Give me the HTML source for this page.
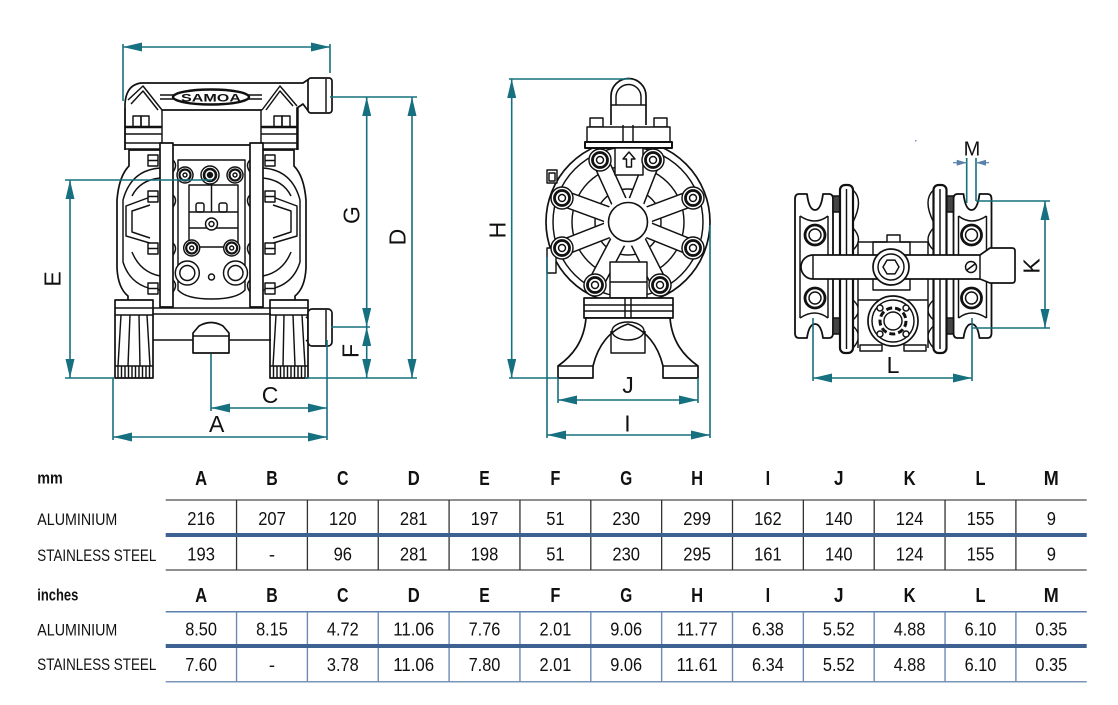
<!DOCTYPE html>
<html><head><meta charset="utf-8"><style>
html,body{margin:0;padding:0;background:#fff;}
svg{display:block;}
.t{font-family:"Liberation Sans Narrow","Liberation Sans",Arial,sans-serif;}
.d{font-family:"Liberation Sans",Arial,sans-serif;font-size:23px;fill:#111;}
</style></head><body>
<svg width="1118" height="705" viewBox="0 0 1118 705" xmlns="http://www.w3.org/2000/svg">
<defs>
<marker id="ar" viewBox="0 0 19 9" refX="19" refY="4.5" markerWidth="19" markerHeight="9" markerUnits="userSpaceOnUse" orient="auto-start-reverse"><path d="M0,0 L19,4.5 L0,9 Z" fill="#17707f"/></marker>
<marker id="sm" viewBox="0 0 10 6" refX="10" refY="3" markerWidth="10" markerHeight="6" markerUnits="userSpaceOnUse" orient="auto"><path d="M0,0 L10,3 L0,6 Z" fill="#5a82a8"/></marker>
</defs>
<rect width="1118" height="705" fill="#fff"/>

<!-- ================= FRONT VIEW ================= -->
<g fill="none" stroke="#111" stroke-width="1.45" stroke-linejoin="round">
  <path d="M125,150 V104 Q126,85 141,83 H303 L309,79" stroke-width="1.7"/>
  <path d="M297,150 V108 L303,104 L309,112" stroke-width="1.7"/>
  <rect x="308" y="78" width="24" height="35" rx="3" fill="#fff" stroke-width="1.7"/>
  <path d="M326,79 V112"/>
  <path d="M128,100 L143,86 L162,110 M131,104 L143,91 L158,110"/>
  <path d="M262,110 L280,86 L297,106 M266,110 L280,91 L293,106"/>
  <path d="M162,110 H262" stroke-width="1.7"/>
  <path d="M160,95 H174 M160,99 H174 M248,95 H262 M248,99 H262"/>
  <ellipse cx="211" cy="97" rx="38" ry="7.5" stroke-width="2.4"/>
  <text x="211" y="101.5" text-anchor="middle" font-family="Liberation Sans, sans-serif" font-weight="bold" font-size="11" textLength="60" lengthAdjust="spacingAndGlyphs" fill="#111" stroke="none">SAMOA</text>

  <g id="fh">
    <path d="M125,108 V150 M162,110 V150"/>
    <path d="M125,127 H162" stroke-width="2.4"/>
    <path d="M125,134 H162 M125,143 H162 M125,149 H162"/>
    <rect x="133" y="116" width="8" height="11"/>
    <rect x="141" y="116" width="8" height="11"/>
    <path d="M160,150 H129 V166 Q119,176 117,200 V268 Q118,288 128,296 V300" stroke-width="1.7"/>
    <path d="M160,168 Q131,170 123,200 V262 Q131,288 160,290"/>
    <path d="M160,178 Q140,180 132,196 M132,252 Q140,272 160,276"/>
    <path d="M153,196 L126,206 V236 L153,244"/>
    <path d="M150,205 L132,211 V232 L150,238"/>
    <rect x="148" y="155" width="10" height="11" fill="#fff"/>
    <rect x="148" y="191" width="10" height="11" fill="#fff"/>
    <rect x="148" y="243" width="10" height="11" fill="#fff"/>
    <rect x="148" y="283" width="10" height="11" fill="#fff"/>
    <path d="M148,160.5 H158 M148,196.5 H158 M148,248.5 H158 M148,288.5 H158"/>
    <rect x="160" y="143" width="13" height="164" fill="#fff" stroke-width="1.7"/>
    <path d="M173,160 Q178,165 173,172 M173,195 Q178,200 173,207 M173,243 Q178,248 173,255 M173,280 Q178,285 173,292"/>
    <rect x="115" y="300" width="38" height="78" fill="#fff" stroke-width="1.7"/>
    <path d="M115,308 H153 M115,315 H153 M115,366 H153"/>
    <path d="M121,315 L118,366 M130,315 L128,366 M139,315 L140,366 M147,315 L150,366"/>
    <path d="M118,366V378 M121.5,366V378 M125,366V378 M128.5,366V378 M132,366V378 M135.5,366V378 M139,366V378 M142.5,366V378 M146,366V378 M149.5,366V378"/>
  </g>
  <use href="#fh" transform="matrix(-1 0 0 1 423 0)"/>

  <path d="M173,145 H250" stroke-width="1.7"/>
  <path d="M178,160 H245 V290 Q237,299 211.5,299 Q186,299 178,290 Z"/>
  <rect x="189" y="185" width="49" height="62"/>
  <path d="M189,212 H238 M189,228 H238 M211.5,185 V212"/>
  <rect x="196" y="203" width="8" height="9" rx="2"/>
  <rect x="219" y="203" width="8" height="9" rx="2"/>
  <g fill="#fff">
    <circle cx="185" cy="175" r="8"/><circle cx="185" cy="175" r="5.5" stroke-width="2.2"/><circle cx="185" cy="175" r="2"/>
    <circle cx="210" cy="175" r="9"/><circle cx="210" cy="175" r="6" stroke-width="2.6"/><circle cx="210" cy="175" r="2.5" fill="#111"/>
    <circle cx="235" cy="175" r="8"/><circle cx="235" cy="175" r="5.5" stroke-width="2.2"/><circle cx="235" cy="175" r="2"/>
    <circle cx="211.5" cy="224" r="6"/><circle cx="211.5" cy="224" r="2.5"/>
    <circle cx="191.7" cy="248" r="8"/><circle cx="191.7" cy="248" r="5.5" stroke-width="2.2"/><circle cx="191.7" cy="248" r="2"/>
    <circle cx="231.7" cy="248" r="8"/><circle cx="231.7" cy="248" r="5.5" stroke-width="2.2"/><circle cx="231.7" cy="248" r="2"/>
    <circle cx="187.3" cy="273" r="12"/><circle cx="187.3" cy="273" r="7.5"/>
    <circle cx="235.5" cy="273" r="12"/><circle cx="235.5" cy="273" r="7.5"/>
    <circle cx="211.5" cy="277" r="3"/>
  </g>
  <path d="M153,308 H271 M153,314 H271 M153,340 H193 M229,340 H271"/>
  <path d="M193,353 V333 L199,326 Q211,319 223,326 L229,333 V353 Z" fill="#fff" stroke-width="1.7"/>
  <path d="M193,336 H229"/>
  <path d="M306,318 L309,315 M306,340 L309,343"/>
  <rect x="308" y="309" width="24" height="37" rx="4" fill="#fff" stroke-width="1.7"/>
  <path d="M326,310 V345"/>
</g>

<!-- ================= SIDE VIEW ================= -->
<g fill="none" stroke="#111" stroke-width="1.45" stroke-linejoin="round">
  <path d="M611,125 V96 A17.5,17.5 0 0 1 646,96 V125" stroke-width="1.7"/>
  <path d="M616,105 V97 A12.5,12.5 0 0 1 641,97 V105"/>
  <path d="M611,105 H646"/>
  <path d="M623,125 V148 M633,125 V148"/>
  <rect x="590" y="118" width="13" height="9" fill="#fff"/>
  <rect x="654" y="118" width="13" height="9" fill="#fff"/>
  <circle cx="628" cy="222" r="82" stroke-width="1.7"/>
  <circle cx="628" cy="222" r="75"/>
  <circle cx="628" cy="222" r="56"/>
  <circle cx="628" cy="222" r="33"/>
  <path d="M619.2,202 L600.1,160.1 M636.4,201.5 L653.2,158.7 M607.6,214.5 L564.4,198.7 M648.9,214.3 L692,198.2 M607.8,230.1 L565,246.9 M648.7,230.2 L691.4,247.5 M618,241.4 L596.5,282.1 M638.2,241.7 L658.9,282.8" stroke="#111" stroke-width="17"/>
  <path d="M619.2,202 L600.1,160.1 M636.4,201.5 L653.2,158.7 M607.6,214.5 L564.4,198.7 M648.9,214.3 L692,198.2 M607.8,230.1 L565,246.9 M648.7,230.2 L691.4,247.5 M618,241.4 L596.5,282.1 M638.2,241.7 L658.9,282.8" stroke="#fff" stroke-width="14"/>
  <circle cx="628" cy="222" r="24" fill="#fff" stroke="none"/>
  <circle cx="628" cy="222" r="19.5" stroke-width="1.6"/>
  <rect x="587" y="127" width="83" height="15" fill="#fff"/>
  <rect x="585" y="142" width="87" height="6" fill="#fff" stroke-width="2"/>
  <path d="M623,127 V142 M633,127 V142"/>
  <rect x="615" y="148" width="28" height="27" fill="#fff"/>
  <path d="M629,152 L635,159 H631.5 V167 H626.5 V159 H623 Z"/>
  <rect x="610" y="262" width="37" height="36" fill="#fff"/>
  <path d="M610,282 H647"/>
  <rect x="547" y="170" width="10" height="13" fill="#fff"/>
  <rect x="549" y="173" width="6" height="8"/>
  <rect x="547" y="248" width="9" height="25" fill="#fff"/>
  <g fill="#fff">
    <circle cx="600" cy="160" r="11"/><circle cx="600" cy="160" r="7.5" stroke-width="2.8"/><circle cx="600" cy="160" r="3.5"/>
    <circle cx="653" cy="160" r="11"/><circle cx="653" cy="160" r="7.5" stroke-width="2.8"/><circle cx="653" cy="160" r="3.5"/>
    <circle cx="562" cy="198" r="11"/><circle cx="562" cy="198" r="7.5" stroke-width="2.8"/><circle cx="562" cy="198" r="3.5"/>
    <circle cx="693" cy="198" r="11"/><circle cx="693" cy="198" r="7.5" stroke-width="2.8"/><circle cx="693" cy="198" r="3.5"/>
    <circle cx="562" cy="248" r="11"/><circle cx="562" cy="248" r="7.5" stroke-width="2.8"/><circle cx="562" cy="248" r="3.5"/>
    <circle cx="693" cy="248" r="11"/><circle cx="693" cy="248" r="7.5" stroke-width="2.8"/><circle cx="693" cy="248" r="3.5"/>
    <circle cx="595" cy="285" r="11"/><circle cx="595" cy="285" r="7.5" stroke-width="2.8"/><circle cx="595" cy="285" r="3.5"/>
    <circle cx="660" cy="285" r="11"/><circle cx="660" cy="285" r="7.5" stroke-width="2.8"/><circle cx="660" cy="285" r="3.5"/>
  </g>
  <rect x="584" y="298" width="89" height="20" fill="#fff" stroke-width="1.7"/>
  <path d="M584,305 H673 M584,311 H673 M625,298 V318 M631,298 V318"/>
  <path d="M586,318 C584,342 572,356 558,366 V378 H593 V366 C598,345 610,330 628,324 C646,330 658,345 663,366 V378 H698 V366 C684,356 672,342 670,318 Z" fill="#fff" stroke-width="1.7"/>
  <path d="M558,366 H593 M663,366 H698"/>
  <path d="M611,331 V353 H645 V331"/>
  <ellipse cx="628" cy="331" rx="16" ry="9"/>
</g>

<!-- ================= TOP VIEW ================= -->
<g fill="none" stroke="#111" stroke-width="1.45" stroke-linejoin="round">
  <g id="rh">
    <path d="M799,194 H807 Q809,210 815,210 Q821,210 823,194 H829 Q833,194 833,199 V333 Q833,338 829,338 H823 Q821,324 815,324 Q809,324 807,338 H799 Q795,338 795,333 V199 Q795,194 799,194 Z" fill="#fff" stroke-width="1.8"/>
    <path d="M800,216 Q815,226 828,216 M800,318 Q815,308 828,318 M800,216 V318 M828,216 V318"/>
    <circle cx="815" cy="235" r="10" stroke-width="2.8"/><circle cx="815" cy="235" r="6"/>
    <circle cx="815" cy="298" r="10" stroke-width="2.8"/><circle cx="815" cy="298" r="6"/>
    <rect x="833" y="196" width="7" height="16" fill="#444"/>
    <rect x="833" y="318" width="7" height="16" fill="#444"/>
    <rect x="840" y="185" width="13" height="168" rx="5" fill="#fff" stroke-width="2.2"/>
    <path d="M846.5,189 V349"/>
    <path d="M853,190 Q864,200 853,222 M853,228 Q864,240 853,250 M853,300 Q864,310 853,320 M853,326 Q864,336 853,348"/>
  </g>
  <use href="#rh" transform="matrix(-1 0 0 1 1786.5 0)"/>
  <path d="M858,348 V242 H887 V235 H900 V242 H928 V348" fill="#fff"/>
  <rect x="873" y="242" width="37" height="48"/>
  <path d="M858,300 H928"/>
  <rect x="860" y="345" width="22" height="6" fill="#fff"/>
  <rect x="904" y="345" width="22" height="6" fill="#fff"/>
  <path d="M813,255 H980 L990,248 H1012 Q1015,248 1015,251 V280 Q1015,283 1012,283 H990 L980,279 H813 A12,12 0 0 1 813,255 Z" fill="#fff" stroke-width="1.7"/>
  <path d="M980,255 V279 M813,255 V279"/>
  <circle cx="971" cy="267" r="5.5" fill="#fff"/>
  <path d="M967,270 L975,264"/>
  <circle cx="891" cy="267" r="18" fill="#fff" stroke-width="1.7"/>
  <circle cx="891" cy="267" r="13"/>
  <polygon points="899,267 895,273.9 887,273.9 883,267 887,260.1 895,260.1"/>
  <circle cx="893" cy="321" r="25" fill="#fff" stroke-width="1.7"/>
  <circle cx="893" cy="321" r="21"/>
  <circle cx="893" cy="321" r="13" stroke-width="3" stroke-dasharray="6 3"/>
  <circle cx="893" cy="321" r="9"/>
  <g fill="#fff"><circle cx="880" cy="308" r="3"/><circle cx="906" cy="308" r="3"/><circle cx="880" cy="334" r="3"/><circle cx="906" cy="334" r="3"/></g>
</g>

<!-- ================= DIMENSIONS ================= -->
<g stroke="#17707f" stroke-width="1.6" fill="none">
  <path d="M123,44 V101 M330,44 V73"/>
  <line x1="123" y1="47" x2="330" y2="47" marker-start="url(#ar)" marker-end="url(#ar)"/>
  <path d="M65,180 H212 M65,378 H114"/>
  <line x1="70" y1="180" x2="70" y2="378" marker-start="url(#ar)" marker-end="url(#ar)"/>
  <path d="M330,97 H417 M331,327 H370 M305,378 H417"/>
  <line x1="366.7" y1="97" x2="366.7" y2="327" marker-start="url(#ar)" marker-end="url(#ar)"/>
  <line x1="366.7" y1="327" x2="366.7" y2="378" marker-start="url(#ar)" marker-end="url(#ar)"/>
  <line x1="412" y1="97" x2="412" y2="378" marker-start="url(#ar)" marker-end="url(#ar)"/>
  <path d="M211,354 V411 M113,378 V440 M327,340 V440"/>
  <line x1="211" y1="408" x2="327" y2="408" marker-start="url(#ar)" marker-end="url(#ar)"/>
  <line x1="113" y1="437" x2="327" y2="437" marker-start="url(#ar)" marker-end="url(#ar)"/>
  <path d="M509,79 H630 M509,378 H558"/>
  <line x1="511.7" y1="79" x2="511.7" y2="378" marker-start="url(#ar)" marker-end="url(#ar)"/>
  <path d="M558,378 V403 M698,378 V403 M547,257 V438 M710,225 V438"/>
  <line x1="558" y1="400" x2="698" y2="400" marker-start="url(#ar)" marker-end="url(#ar)"/>
  <line x1="547" y1="435" x2="710" y2="435" marker-start="url(#ar)" marker-end="url(#ar)"/>
  <path d="M966.7,158 V203 M976,158 V201"/>
  <path d="M976,201 H1050 M972,328 H1050"/>
  <line x1="1045" y1="201" x2="1045" y2="328" marker-start="url(#ar)" marker-end="url(#ar)"/>
  <path d="M813,318 V381 M972,318 V381"/>
  <line x1="813" y1="378" x2="972" y2="378" marker-start="url(#ar)" marker-end="url(#ar)"/>
</g>
<g stroke="#5a82a8" stroke-width="1.2">
  <line x1="953" y1="162.7" x2="966.7" y2="162.7" marker-end="url(#sm)"/>
  <line x1="989" y1="162.7" x2="976" y2="162.7" marker-end="url(#sm)"/>
</g>
<rect x="915" y="140" width="1.5" height="1.5" fill="#7a9cc0"/>

<text class="d" transform="translate(52,279) rotate(-90)" x="0" y="8.3" text-anchor="middle">E</text>
<text class="d" transform="translate(351,215) rotate(-90)" x="0" y="8.3" text-anchor="middle">G</text>
<text class="d" transform="translate(397,237) rotate(-90)" x="0" y="8.3" text-anchor="middle">D</text>
<text class="d" transform="translate(350,351) rotate(-90)" x="0" y="8.3" text-anchor="middle">F</text>
<text class="d" x="270" y="403" text-anchor="middle">C</text>
<text class="d" x="216.7" y="432" text-anchor="middle">A</text>
<text class="d" transform="translate(497,230) rotate(-90)" x="0" y="8.3" text-anchor="middle">H</text>
<text class="d" x="628" y="393" text-anchor="middle">J</text>
<text class="d" x="627.5" y="431.5" text-anchor="middle">I</text>
<text class="d" transform="translate(1031,266) rotate(-90)" x="0" y="8.3" text-anchor="middle">K</text>
<text class="d" x="893" y="373" text-anchor="middle">L</text>
<text class="d" x="972" y="155.7" text-anchor="middle" style="font-size:20px">M</text>

<!-- ================= TABLE ================= -->
<g stroke-width="1.5">
  <line x1="165.7" y1="500" x2="1086.7" y2="500" stroke="#6a6a6a"/>
  <line x1="165.7" y1="570" x2="1086.7" y2="570" stroke="#6a6a6a"/>
  <path d="M236.55,500V570 M307.4,500V570 M378.25,500V570 M449.1,500V570 M519.95,500V570 M590.8,500V570 M661.65,500V570 M732.5,500V570 M803.35,500V570 M874.2,500V570 M945.05,500V570 M1015.9,500V570" stroke="#333" stroke-width="1.3"/>
  <line x1="165.7" y1="535" x2="1086.7" y2="535" stroke="#3d6190" stroke-width="4"/>
  <line x1="165.7" y1="611.7" x2="1086.7" y2="611.7" stroke="#5b7fae"/>
  <line x1="165.7" y1="681.7" x2="1086.7" y2="681.7" stroke="#7a95b8"/>
  <path d="M236.55,611.7V681.7 M307.4,611.7V681.7 M378.25,611.7V681.7 M449.1,611.7V681.7 M519.95,611.7V681.7 M590.8,611.7V681.7 M661.65,611.7V681.7 M732.5,611.7V681.7 M803.35,611.7V681.7 M874.2,611.7V681.7 M945.05,611.7V681.7 M1015.9,611.7V681.7" stroke="#6c8cb5" stroke-width="1.4"/>
  <line x1="165.7" y1="646" x2="1086.7" y2="646" stroke="#3d6190" stroke-width="4"/>
</g>

<g class="t" fill="#111">
  <text x="37.3" y="483.5" font-weight="bold" font-size="17" textLength="25.5" lengthAdjust="spacingAndGlyphs">mm</text>
  <text x="37.3" y="525" font-size="17" textLength="80" lengthAdjust="spacingAndGlyphs">ALUMINIUM</text>
  <text x="37.3" y="561" font-size="17" textLength="119" lengthAdjust="spacingAndGlyphs">STAINLESS STEEL</text>
  <text x="37.3" y="600.5" font-weight="bold" font-size="17" textLength="41" lengthAdjust="spacingAndGlyphs">inches</text>
  <text x="37.3" y="635.5" font-size="17" textLength="80" lengthAdjust="spacingAndGlyphs">ALUMINIUM</text>
  <text x="37.3" y="670" font-size="17" textLength="119" lengthAdjust="spacingAndGlyphs">STAINLESS STEEL</text>

  <g font-weight="bold" font-size="20" text-anchor="middle">
    <text x="201.1" y="485" textLength="12" lengthAdjust="spacingAndGlyphs">A</text><text x="272" y="485" textLength="11.5" lengthAdjust="spacingAndGlyphs">B</text><text x="342.8" y="485" textLength="11.5" lengthAdjust="spacingAndGlyphs">C</text><text x="413.7" y="485" textLength="12" lengthAdjust="spacingAndGlyphs">D</text><text x="484.5" y="485" textLength="10.5" lengthAdjust="spacingAndGlyphs">E</text><text x="555.4" y="485" textLength="10" lengthAdjust="spacingAndGlyphs">F</text><text x="626.2" y="485" textLength="12" lengthAdjust="spacingAndGlyphs">G</text><text x="697.1" y="485" textLength="12" lengthAdjust="spacingAndGlyphs">H</text><text x="767.9" y="485" textLength="4.5" lengthAdjust="spacingAndGlyphs">I</text><text x="838.8" y="485" textLength="9.5" lengthAdjust="spacingAndGlyphs">J</text><text x="909.6" y="485" textLength="12" lengthAdjust="spacingAndGlyphs">K</text><text x="980.5" y="485" textLength="10" lengthAdjust="spacingAndGlyphs">L</text><text x="1051.3" y="485" textLength="15" lengthAdjust="spacingAndGlyphs">M</text>
    <text x="201.1" y="602" textLength="12" lengthAdjust="spacingAndGlyphs">A</text><text x="272" y="602" textLength="11.5" lengthAdjust="spacingAndGlyphs">B</text><text x="342.8" y="602" textLength="11.5" lengthAdjust="spacingAndGlyphs">C</text><text x="413.7" y="602" textLength="12" lengthAdjust="spacingAndGlyphs">D</text><text x="484.5" y="602" textLength="10.5" lengthAdjust="spacingAndGlyphs">E</text><text x="555.4" y="602" textLength="10" lengthAdjust="spacingAndGlyphs">F</text><text x="626.2" y="602" textLength="12" lengthAdjust="spacingAndGlyphs">G</text><text x="697.1" y="602" textLength="12" lengthAdjust="spacingAndGlyphs">H</text><text x="767.9" y="602" textLength="4.5" lengthAdjust="spacingAndGlyphs">I</text><text x="838.8" y="602" textLength="9.5" lengthAdjust="spacingAndGlyphs">J</text><text x="909.6" y="602" textLength="12" lengthAdjust="spacingAndGlyphs">K</text><text x="980.5" y="602" textLength="10" lengthAdjust="spacingAndGlyphs">L</text><text x="1051.3" y="602" textLength="15" lengthAdjust="spacingAndGlyphs">M</text>
  </g>

  <g font-size="18.5" text-anchor="middle">
    <text x="201.1" y="525" textLength="27.6" lengthAdjust="spacingAndGlyphs">216</text>
    <text x="272" y="525" textLength="27.6" lengthAdjust="spacingAndGlyphs">207</text>
    <text x="342.8" y="525" textLength="27.6" lengthAdjust="spacingAndGlyphs">120</text>
    <text x="413.7" y="525" textLength="27.6" lengthAdjust="spacingAndGlyphs">281</text>
    <text x="484.5" y="525" textLength="27.6" lengthAdjust="spacingAndGlyphs">197</text>
    <text x="555.4" y="525" textLength="18.4" lengthAdjust="spacingAndGlyphs">51</text>
    <text x="626.2" y="525" textLength="27.6" lengthAdjust="spacingAndGlyphs">230</text>
    <text x="697.1" y="525" textLength="27.6" lengthAdjust="spacingAndGlyphs">299</text>
    <text x="767.9" y="525" textLength="27.6" lengthAdjust="spacingAndGlyphs">162</text>
    <text x="838.8" y="525" textLength="27.6" lengthAdjust="spacingAndGlyphs">140</text>
    <text x="909.6" y="525" textLength="27.6" lengthAdjust="spacingAndGlyphs">124</text>
    <text x="980.5" y="525" textLength="27.6" lengthAdjust="spacingAndGlyphs">155</text>
    <text x="1051.3" y="525" textLength="9.2" lengthAdjust="spacingAndGlyphs">9</text>
    <text x="201.1" y="560.5" textLength="27.6" lengthAdjust="spacingAndGlyphs">193</text>
    <text x="272" y="560.5">-</text>
    <text x="342.8" y="560.5" textLength="18.4" lengthAdjust="spacingAndGlyphs">96</text>
    <text x="413.7" y="560.5" textLength="27.6" lengthAdjust="spacingAndGlyphs">281</text>
    <text x="484.5" y="560.5" textLength="27.6" lengthAdjust="spacingAndGlyphs">198</text>
    <text x="555.4" y="560.5" textLength="18.4" lengthAdjust="spacingAndGlyphs">51</text>
    <text x="626.2" y="560.5" textLength="27.6" lengthAdjust="spacingAndGlyphs">230</text>
    <text x="697.1" y="560.5" textLength="27.6" lengthAdjust="spacingAndGlyphs">295</text>
    <text x="767.9" y="560.5" textLength="27.6" lengthAdjust="spacingAndGlyphs">161</text>
    <text x="838.8" y="560.5" textLength="27.6" lengthAdjust="spacingAndGlyphs">140</text>
    <text x="909.6" y="560.5" textLength="27.6" lengthAdjust="spacingAndGlyphs">124</text>
    <text x="980.5" y="560.5" textLength="27.6" lengthAdjust="spacingAndGlyphs">155</text>
    <text x="1051.3" y="560.5" textLength="9.2" lengthAdjust="spacingAndGlyphs">9</text>
    <text x="201.1" y="635.5" textLength="31.8" lengthAdjust="spacingAndGlyphs">8.50</text>
    <text x="272" y="635.5" textLength="31.8" lengthAdjust="spacingAndGlyphs">8.15</text>
    <text x="342.8" y="635.5" textLength="31.8" lengthAdjust="spacingAndGlyphs">4.72</text>
    <text x="413.7" y="635.5" textLength="41" lengthAdjust="spacingAndGlyphs">11.06</text>
    <text x="484.5" y="635.5" textLength="31.8" lengthAdjust="spacingAndGlyphs">7.76</text>
    <text x="555.4" y="635.5" textLength="31.8" lengthAdjust="spacingAndGlyphs">2.01</text>
    <text x="626.2" y="635.5" textLength="31.8" lengthAdjust="spacingAndGlyphs">9.06</text>
    <text x="697.1" y="635.5" textLength="41" lengthAdjust="spacingAndGlyphs">11.77</text>
    <text x="767.9" y="635.5" textLength="31.8" lengthAdjust="spacingAndGlyphs">6.38</text>
    <text x="838.8" y="635.5" textLength="31.8" lengthAdjust="spacingAndGlyphs">5.52</text>
    <text x="909.6" y="635.5" textLength="31.8" lengthAdjust="spacingAndGlyphs">4.88</text>
    <text x="980.5" y="635.5" textLength="31.8" lengthAdjust="spacingAndGlyphs">6.10</text>
    <text x="1051.3" y="635.5" textLength="31.8" lengthAdjust="spacingAndGlyphs">0.35</text>
    <text x="201.1" y="671" textLength="31.8" lengthAdjust="spacingAndGlyphs">7.60</text>
    <text x="272" y="671">-</text>
    <text x="342.8" y="671" textLength="31.8" lengthAdjust="spacingAndGlyphs">3.78</text>
    <text x="413.7" y="671" textLength="41" lengthAdjust="spacingAndGlyphs">11.06</text>
    <text x="484.5" y="671" textLength="31.8" lengthAdjust="spacingAndGlyphs">7.80</text>
    <text x="555.4" y="671" textLength="31.8" lengthAdjust="spacingAndGlyphs">2.01</text>
    <text x="626.2" y="671" textLength="31.8" lengthAdjust="spacingAndGlyphs">9.06</text>
    <text x="697.1" y="671" textLength="41" lengthAdjust="spacingAndGlyphs">11.61</text>
    <text x="767.9" y="671" textLength="31.8" lengthAdjust="spacingAndGlyphs">6.34</text>
    <text x="838.8" y="671" textLength="31.8" lengthAdjust="spacingAndGlyphs">5.52</text>
    <text x="909.6" y="671" textLength="31.8" lengthAdjust="spacingAndGlyphs">4.88</text>
    <text x="980.5" y="671" textLength="31.8" lengthAdjust="spacingAndGlyphs">6.10</text>
    <text x="1051.3" y="671" textLength="31.8" lengthAdjust="spacingAndGlyphs">0.35</text>
  </g>
</g>
</svg>
</body></html>
